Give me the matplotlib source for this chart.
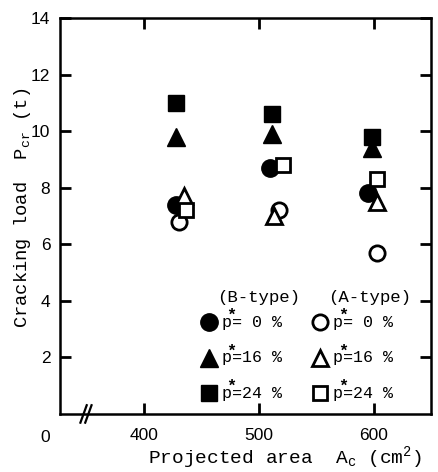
import matplotlib
matplotlib.use("Agg")
from matplotlib import pyplot as plt

# B-type (filled markers)
b_x_p0 = [428, 510, 595]
b_y_p0 = [7.4, 8.7, 7.8]
b_x_p16 = [428, 512, 599]
b_y_p16 = [9.8, 9.9, 9.4]
b_x_p24 = [428, 512, 599]
b_y_p24 = [11.0, 10.6, 9.8]

# A-type (open markers)
a_x_p0 = [431, 518, 603]
a_y_p0 = [6.8, 7.2, 5.7]
a_x_p16 = [435, 513, 603]
a_y_p16 = [7.7, 7.0, 7.5]
a_x_p24 = [437, 521, 603]
a_y_p24 = [7.2, 8.8, 8.3]

x_ticks = [400, 500, 600]
y_ticks = [2, 4, 6, 8, 10, 12, 14]
legend_pct = [" 0", "16", "24"]

mono = "Liberation Mono"
sans = "Liberation Sans"
plt.rcParams["mathtext.fontset"] = "custom"
plt.rcParams["mathtext.tt"] = mono
plt.rcParams["mathtext.rm"] = mono
plt.rcParams["mathtext.it"] = mono

fig = plt.figure(figsize=(4.38, 4.72), dpi=100)
ax = fig.add_axes([0.137, 0.123, 0.847, 0.839])

ax.plot(b_x_p24, b_y_p24, "s", color="black", ms=12, clip_on=False)
ax.plot(b_x_p16, b_y_p16, "^", color="black", ms=13, clip_on=False)
ax.plot(b_x_p0, b_y_p0, "o", color="black", ms=12.5, clip_on=False)
ax.plot(a_x_p0, a_y_p0, "o", mfc="white", mec="black", mew=2, ms=11)
ax.plot(a_x_p16, a_y_p16, "^", mfc="white", mec="black", mew=2, ms=11)
ax.plot(a_x_p24, a_y_p24, "s", mfc="white", mec="black", mew=2, ms=10)

ax.set_xlim(327, 650)
ax.set_ylim(0, 14)
ax.set_xticks(x_ticks)
ax.set_yticks(y_ticks)
ax.tick_params(direction="in", length=8, width=2, labelsize=12.5, pad=7,
               top=True, right=True)
ax.tick_params(axis="x", pad=10)
for lab in ax.get_xticklabels() + ax.get_yticklabels():
    lab.set_family(sans)
for s in ax.spines.values():
    s.set_linewidth(1.8)

# origin label and axis break
ax.text(-0.04, -0.06, "0", transform=ax.transAxes, ha="center", va="center",
        fontsize=12.5, family=sans)
for dx in [0, 0.013]:
    ax.plot([0.055 + dx, 0.072 + dx], [-0.022, 0.022], transform=ax.transAxes,
            color="black", lw=1.6, clip_on=False)

ax.set_ylabel("Cracking load  P$_{cr}$ (t)", family=mono, fontsize=13.5)
ax.yaxis.set_label_coords(-0.073, 0.52)
ax.set_xlabel("Projected area  A$_c$ (cm$^2$)", family=mono, fontsize=14)
ax.xaxis.set_label_coords(0.605, -0.078)

# legend drawn by hand
ax.text(500, 4.1, "(B-type)", family=mono, fontsize=12.5, ha="center", va="center")
ax.text(597, 4.1, "(A-type)", family=mono, fontsize=12.5, ha="center", va="center")
rows = [(3.25, "o"), (1.98, "^"), (0.74, "s")]
for (yy, m), p in zip(rows, legend_pct):
    ax.plot([457], [yy], m, color="black", ms=12.5 if m != "s" else 12)
    ax.plot([553], [yy], m, mfc="white", mec="black", mew=2, ms=11 if m != "s" else 10)
    for x0 in [468, 565]:
        ax.text(x0, yy, "p=" + p + " %", family=mono, fontsize=12, va="center")
        ax.text(x0 + 4, yy + 0.25, "*", family=mono, fontsize=12, va="center",
                fontweight="bold")

fig.savefig("out.png", dpi=100)
